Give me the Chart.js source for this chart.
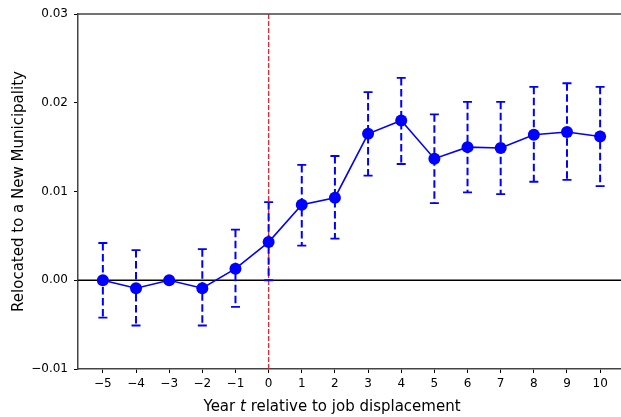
<!DOCTYPE html>
<html>
<head>
<meta charset="utf-8">
<script src="https://cdn.jsdelivr.net/npm/chart.js@4.4.1/dist/chart.umd.min.js"></script>
<style>
  html, body { margin: 0; padding: 0; background: #fff; overflow: hidden; }
  #wrap { width: 621px; height: 417px; overflow: hidden; }
  canvas { display: block; }
</style>
</head>
<body>
<div id="wrap"><canvas id="c" width="631" height="417"></canvas></div>
<script>
// Event-study estimates: relocation to a new municipality by year relative to job displacement
const years    = [-5, -4, -3, -2, -1, 0, 1, 2, 3, 4, 5, 6, 7, 8, 9, 10];
const estimate = [0.0000, -0.0009, 0.0000, -0.0009, 0.0013, 0.0043, 0.0085, 0.0093, 0.0165, 0.0180,
                  0.0137, 0.0150, 0.0149, 0.0164, 0.0167, 0.0162];
const ciLow    = [-0.0042, -0.0051, null, -0.0051, -0.0030, 0.0000, 0.0039, 0.0047, 0.0118, 0.0131,
                  0.0087, 0.0099, 0.0097, 0.0111, 0.0113, 0.0106];
const ciHigh   = [0.0042, 0.0034, null, 0.0035, 0.0057, 0.0088, 0.0130, 0.0140, 0.0212, 0.0228,
                  0.0187, 0.0201, 0.0201, 0.0218, 0.0222, 0.0218];
const xTicks   = [-5, -4, -3, -2, -1, 0, 1, 2, 3, 4, 5, 6, 7, 8, 9, 10];
const yTicks   = [-0.01, 0.00, 0.01, 0.02, 0.03];
const eventYear = 0;

const FONT = "'DejaVu Sans', sans-serif";
const BLUE = '#0000ff';
const fmtNum = (v, d) => (v < 0 ? '\u2212' : '') + Math.abs(v).toFixed(d);

// Reference lines, confidence intervals, top frame and x-axis title
const overlay = {
  id: 'overlay',
  beforeDatasetsDraw(chart) {
    const { ctx, chartArea: a, scales: { x, y } } = chart;
    ctx.save();
    // horizontal zero line
    const y0 = y.getPixelForValue(0);
    ctx.strokeStyle = '#000';
    ctx.lineWidth = 1.3;
    ctx.beginPath(); ctx.moveTo(a.left, y0); ctx.lineTo(a.right, y0); ctx.stroke();
    // vertical event line
    const xe = x.getPixelForValue(eventYear);
    ctx.strokeStyle = '#e8252a';
    ctx.lineWidth = 1.3;
    ctx.setLineDash([5, 2]);
    ctx.beginPath(); ctx.moveTo(xe, a.top); ctx.lineTo(xe, a.bottom); ctx.stroke();
    // confidence intervals
    ctx.strokeStyle = BLUE;
    years.forEach((yr, i) => {
      if (ciLow[i] === null) return;
      const px = x.getPixelForValue(yr);
      const lo = y.getPixelForValue(ciLow[i]);
      const hi = y.getPixelForValue(ciHigh[i]);
      ctx.lineWidth = 2;
      ctx.setLineDash([7.5, 3.5]);
      ctx.beginPath(); ctx.moveTo(px, hi); ctx.lineTo(px, lo); ctx.stroke();
      ctx.setLineDash([]);
      ctx.lineWidth = 1.8;
      ctx.beginPath();
      ctx.moveTo(px - 4.5, hi); ctx.lineTo(px + 4.5, hi);
      ctx.moveTo(px - 4.5, lo); ctx.lineTo(px + 4.5, lo);
      ctx.stroke();
    });
    ctx.restore();
  },
  afterDraw(chart) {
    const { ctx, chartArea: a } = chart;
    ctx.save();
    // top frame
    ctx.strokeStyle = '#444';
    ctx.lineWidth = 1.5;
    ctx.beginPath(); ctx.moveTo(a.left, a.top); ctx.lineTo(a.right, a.top); ctx.stroke();
    // x-axis title with italic t
    const parts = [
      { t: 'Year ', f: `15px ${FONT}` },
      { t: 't', f: `italic 15px ${FONT}` },
      { t: ' relative to job displacement', f: `15px ${FONT}` }
    ];
    let total = 0;
    parts.forEach(p => { ctx.font = p.f; p.w = ctx.measureText(p.t).width; total += p.w; });
    let cx = 332 - total / 2;
    ctx.fillStyle = '#000';
    ctx.textBaseline = 'alphabetic';
    ctx.textAlign = 'left';
    parts.forEach(p => { ctx.font = p.f; ctx.fillText(p.t, cx, 411); cx += p.w; });
    ctx.restore();
  }
};

new Chart(document.getElementById('c'), {
  type: 'scatter',
  data: {
    datasets: [{
      data: years.map((yr, i) => ({ x: yr, y: estimate[i] })),
      showLine: true,
      borderColor: BLUE,
      backgroundColor: BLUE,
      borderWidth: 1.6,
      pointRadius: 6,
      pointHoverRadius: 6,
      pointBorderWidth: 0,
      tension: 0
    }]
  },
  options: {
    responsive: false,
    animation: false,
    events: [],
    layout: { padding: { top: 14, left: 0, right: 0, bottom: 0 } },
    plugins: { legend: { display: false }, tooltip: { enabled: false } },
    scales: {
      x: {
        type: 'linear',
        min: -5.75,
        max: 10.75,
        afterBuildTicks: s => { s.ticks = xTicks.map(v => ({ value: v })); },
        afterFit: s => { s.height = 48; },
        grid: { drawOnChartArea: false, drawTicks: true, tickLength: 4, color: '#000', lineWidth: 1 },
        border: { display: true, color: '#444', width: 1.5 },
        ticks: {
          color: '#000',
          font: { family: FONT, size: 12 },
          padding: 4,
          maxRotation: 0,
          autoSkip: false,
          callback: v => fmtNum(v, 0)
        }
      },
      y: {
        type: 'linear',
        min: -0.01,
        max: 0.03,
        afterBuildTicks: s => { s.ticks = yTicks.map(v => ({ value: v })); },
        afterFit: s => { s.width = 78; },
        grid: { drawOnChartArea: false, drawTicks: true, tickLength: 4, color: '#000', lineWidth: 1 },
        border: { display: true, color: '#444', width: 1.5 },
        title: {
          display: true,
          text: 'Relocated to a New Municipality',
          color: '#000',
          font: { family: FONT, size: 15 },
          padding: { top: 10, bottom: 0 }
        },
        ticks: {
          color: '#000',
          font: { family: FONT, size: 12 },
          padding: 6,
          callback: v => fmtNum(v, 2)
        }
      }
    }
  },
  plugins: [overlay]
});
</script>
</body>
</html>
